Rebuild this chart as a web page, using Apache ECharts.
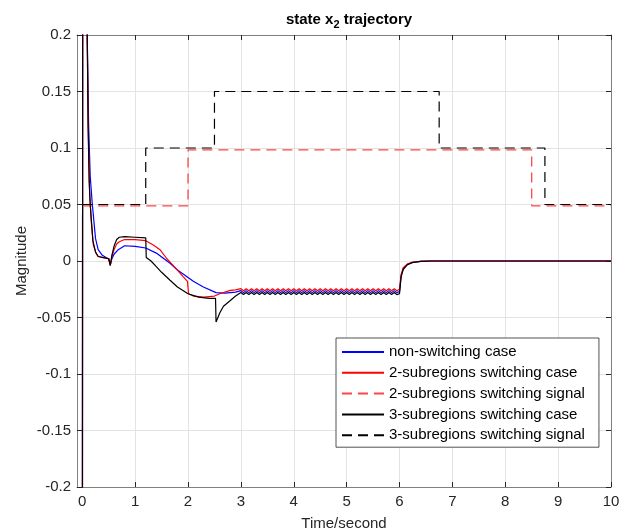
<!DOCTYPE html>
<html><head><meta charset="utf-8">
<script src="https://cdn.jsdelivr.net/npm/echarts@6/dist/echarts.min.js"></script>
<style>html,body{margin:0;padding:0;background:#fff}#c{width:629px;height:531px}</style>
</head><body><div id="c"></div>
<script>
// ---- data ----
const xTicks = [0,1,2,3,4,5,6,7,8,9,10];
const legendNames = ['non-switching case','2-subregions switching case','2-subregions switching signal','3-subregions switching case','3-subregions switching signal'];

const nsHead = [[0,-0.6],[0.01,0.6],[0.09,0.21],[0.12,0.12],[0.15,0.075],[0.19,0.05],[0.25,0.02],[0.3,0.01],[0.38,0.005],[0.45,0.003],[0.5,0.002],[0.53,-0.003],[0.56,0.002],[0.6,0.006],[0.68,0.01],[0.8,0.0135],[1.0,0.013],[1.2,0.0115],[1.4,0.007],[1.66,-0.002],[1.8,-0.008],[1.98,-0.014],[2.1,-0.018],[2.29,-0.023],[2.53,-0.028],[2.7,-0.0285],[2.9,-0.0275]];
const twoHead = [[0,-0.6],[0.01,0.6],[0.09,0.215],[0.11,0.12],[0.14,0.06],[0.17,0.035],[0.21,0.014],[0.26,0.007],[0.3,0.004],[0.4,0.003],[0.5,0.002],[0.53,-0.004],[0.56,0.004],[0.6,0.01],[0.65,0.015],[0.7,0.017],[0.8,0.019],[1.0,0.019],[1.2,0.018],[1.35,0.014],[1.47,0.01],[1.6,0.002],[1.66,-0.001],[1.8,-0.008],[1.91,-0.014],[1.99,-0.018],[2.01,-0.029],[2.1,-0.031],[2.3,-0.032],[2.5,-0.031],[2.6,-0.029],[2.8,-0.026],[2.9,-0.0255]];
const threeHead = [[0,-0.6],[0.01,0.6],[0.09,0.22],[0.11,0.12],[0.13,0.07],[0.15,0.05],[0.2,0.018],[0.25,0.008],[0.3,0.004],[0.4,0.003],[0.5,0.002],[0.53,-0.004],[0.56,0.005],[0.6,0.013],[0.65,0.019],[0.7,0.021],[0.8,0.0215],[1.0,0.021],[1.2,0.0205],[1.21,0.003],[1.3,0.0],[1.4,-0.005],[1.5,-0.01],[1.66,-0.017],[1.8,-0.023],[2.0,-0.029],[2.2,-0.032],[2.4,-0.033],[2.52,-0.033],[2.53,-0.054],[2.6,-0.046],[2.67,-0.04],[2.8,-0.035],[2.9,-0.031]];

const plateauT = [3.00,3.05,3.10,3.15,3.20,3.25,3.30,3.35,3.40,3.45,3.50,3.55,3.60,3.65,3.70,3.75,3.80,3.85,3.90,3.95,4.00,4.05,4.10,4.15,4.20,4.25,4.30,4.35,4.40,4.45,4.50,4.55,4.60,4.65,4.70,4.75,4.80,4.85,4.90,4.95,5.00,5.05,5.10,5.15,5.20,5.25,5.30,5.35,5.40,5.45,5.50,5.55,5.60,5.65,5.70,5.75,5.80,5.85,5.90,5.95,6.00];
const nsPlateau = [-0.0262,-0.0280,-0.0262,-0.0280,-0.0262,-0.0280,-0.0262,-0.0280,-0.0262,-0.0280,-0.0262,-0.0280,-0.0262,-0.0280,-0.0262,-0.0280,-0.0262,-0.0280,-0.0262,-0.0280,-0.0262,-0.0280,-0.0262,-0.0280,-0.0262,-0.0280,-0.0262,-0.0280,-0.0262,-0.0280,-0.0262,-0.0280,-0.0262,-0.0280,-0.0262,-0.0280,-0.0262,-0.0280,-0.0262,-0.0280,-0.0262,-0.0280,-0.0262,-0.0280,-0.0262,-0.0280,-0.0262,-0.0280,-0.0262,-0.0280,-0.0262,-0.0280,-0.0262,-0.0280,-0.0262,-0.0280,-0.0262,-0.0280,-0.0262,-0.0280,-0.0270];
const twoPlateau = [-0.0245,-0.0263,-0.0245,-0.0263,-0.0245,-0.0263,-0.0245,-0.0263,-0.0245,-0.0263,-0.0245,-0.0263,-0.0245,-0.0263,-0.0245,-0.0263,-0.0245,-0.0263,-0.0245,-0.0263,-0.0245,-0.0263,-0.0245,-0.0263,-0.0245,-0.0263,-0.0245,-0.0263,-0.0245,-0.0263,-0.0245,-0.0263,-0.0245,-0.0263,-0.0245,-0.0263,-0.0245,-0.0263,-0.0245,-0.0263,-0.0245,-0.0263,-0.0245,-0.0263,-0.0245,-0.0263,-0.0245,-0.0263,-0.0245,-0.0263,-0.0245,-0.0263,-0.0245,-0.0263,-0.0245,-0.0263,-0.0245,-0.0263,-0.0245,-0.0263,-0.0250];
const threePlateau = [-0.0279,-0.0297,-0.0279,-0.0297,-0.0279,-0.0297,-0.0279,-0.0297,-0.0279,-0.0297,-0.0279,-0.0297,-0.0279,-0.0297,-0.0279,-0.0297,-0.0279,-0.0297,-0.0279,-0.0297,-0.0279,-0.0297,-0.0279,-0.0297,-0.0279,-0.0297,-0.0279,-0.0297,-0.0279,-0.0297,-0.0279,-0.0297,-0.0279,-0.0297,-0.0279,-0.0297,-0.0279,-0.0297,-0.0279,-0.0297,-0.0279,-0.0297,-0.0279,-0.0297,-0.0279,-0.0297,-0.0279,-0.0297,-0.0279,-0.0297,-0.0279,-0.0297,-0.0279,-0.0297,-0.0279,-0.0297,-0.0279,-0.0297,-0.0279,-0.0297,-0.0290];

const tailT = [6.03,6.07,6.15,6.25,6.4,6.6,10];
const nsTail    = [-0.013,-0.007,-0.003,-0.0012,-0.0003,0,0];
const twoTail   = [-0.012,-0.006,-0.0027,-0.001,-0.0002,0,0];
const threeTail = [-0.014,-0.0075,-0.0032,-0.0013,-0.0003,0,0];

const sig2T = [0,2.0,8.5,10];
const sig2V = [0.0488,0.0983,0.0488,0.0488];
const sig3T = [0,1.2,2.5,6.75,8.75,10];
const sig3V = [0.05,0.1,0.15,0.1,0.05,0.05];

// ---- build ----
const zip = (t,v) => t.map((x,i)=>[x,v[i]]);
const nsData = nsHead.concat(zip(plateauT,nsPlateau), zip(tailT,nsTail));
const twoData = twoHead.concat(zip(plateauT,twoPlateau), zip(tailT,twoTail));
const threeData = threeHead.concat(zip(plateauT,threePlateau), zip(tailT,threeTail));

const FONT = 'Liberation Sans, Arial, Helvetica, sans-serif';
const FS = 15;
const AX = '#262626';
const chart = echarts.init(document.getElementById('c'), null, {renderer:'canvas'});
const fmtY = v => String(parseFloat(Number(v).toFixed(2)));
chart.setOption({
  animation:false,
  backgroundColor:'#fff',
  textStyle:{fontFamily:FONT},
  title:{
    text:'{b|state x}{s|2}{b| trajectory}',
    left:344, top:5, textAlign:'center',
    textStyle:{rich:{
      b:{fontFamily:FONT,fontWeight:'bold',fontSize:FS,color:'#000'},
      s:{fontFamily:FONT,fontWeight:'bold',fontSize:11,color:'#000',padding:[9,0,0,0]}
    }}
  },
  graphic:[{
    type:'text', x:22, y:261, rotation:Math.PI/2, silent:true,
    style:{text:'Magnitude', fontFamily:FONT, fontSize:FS, fill:AX, textAlign:'center', textVerticalAlign:'middle'}
  }],
  grid:{left:77,right:18,top:35,bottom:44,containLabel:false,outerBoundsMode:'none'},
  legend:{
    orient:'vertical', left:336, top:338,
    padding:[6,14,4,5], itemWidth:42, itemHeight:14, itemGap:4.8,
    backgroundColor:'#fff', borderColor:AX, borderWidth:0.8, borderRadius:0,
    itemStyle:{opacity:0},
    textStyle:{fontFamily:FONT,fontSize:FS,color:'#000',lineHeight:16},
    data:legendNames
  },
  xAxis:[{
    type:'value', min:-0.1, max:10, position:'bottom',
    name:'Time/second', nameLocation:'middle', nameGap:29,
    nameTextStyle:{fontFamily:FONT,fontSize:FS,color:AX},
    axisLine:{onZero:false,lineStyle:{color:'#808080',width:1}},
    axisTick:{inside:true,length:5,customValues:xTicks,lineStyle:{color:AX}},
    axisLabel:{customValues:xTicks,fontFamily:FONT,fontSize:FS,color:AX,margin:7},
    splitLine:{show:true,lineStyle:{color:'#e3e3e3',width:1}}
  },{
    type:'value', min:-0.1, max:10, position:'top',
    axisLine:{onZero:false,lineStyle:{color:'#808080',width:1}},
    axisTick:{inside:true,length:5,customValues:xTicks,lineStyle:{color:AX}},
    axisLabel:{show:false}, splitLine:{show:false}
  }],
  yAxis:[{
    type:'value', min:-0.2, max:0.2, interval:0.05, position:'left',
    axisLine:{show:true,onZero:false,lineStyle:{color:'#808080',width:1}},
    axisTick:{show:true,inside:true,length:5,lineStyle:{color:AX}},
    axisLabel:{fontFamily:FONT,fontSize:FS,color:AX,margin:6,formatter:fmtY},
    splitLine:{show:true,lineStyle:{color:'#e3e3e3',width:1}}
  },{
    type:'value', min:-0.2, max:0.2, interval:0.05, position:'right',
    axisLine:{show:true,onZero:false,lineStyle:{color:'#808080',width:1}},
    axisTick:{show:true,inside:true,length:5,lineStyle:{color:AX}},
    axisLabel:{show:false}, splitLine:{show:false}
  }],
  series:[
    {name:legendNames[0],type:'line',data:nsData,symbol:'none',clip:true,
     lineStyle:{color:'#0000ff',width:1.2},itemStyle:{color:'#0000ff'}},
    {name:legendNames[1],type:'line',data:twoData,symbol:'none',clip:true,
     lineStyle:{color:'#ff0000',width:1.2},itemStyle:{color:'#ff0000'}},
    {name:legendNames[2],type:'line',data:zip(sig2T,sig2V),step:'end',symbol:'none',clip:true,
     lineStyle:{color:'#ff4545',width:1.3,type:[10,6]},itemStyle:{color:'#ff4545'}},
    {name:legendNames[3],type:'line',data:threeData,symbol:'none',clip:true,
     lineStyle:{color:'#000000',width:1.2},itemStyle:{color:'#000000'}},
    {name:legendNames[4],type:'line',data:zip(sig3T,sig3V),step:'end',symbol:'none',clip:true,
     lineStyle:{color:'#000000',width:1.2,type:[10,6]},itemStyle:{color:'#000000'}}
  ]
});
</script>
</body></html>
